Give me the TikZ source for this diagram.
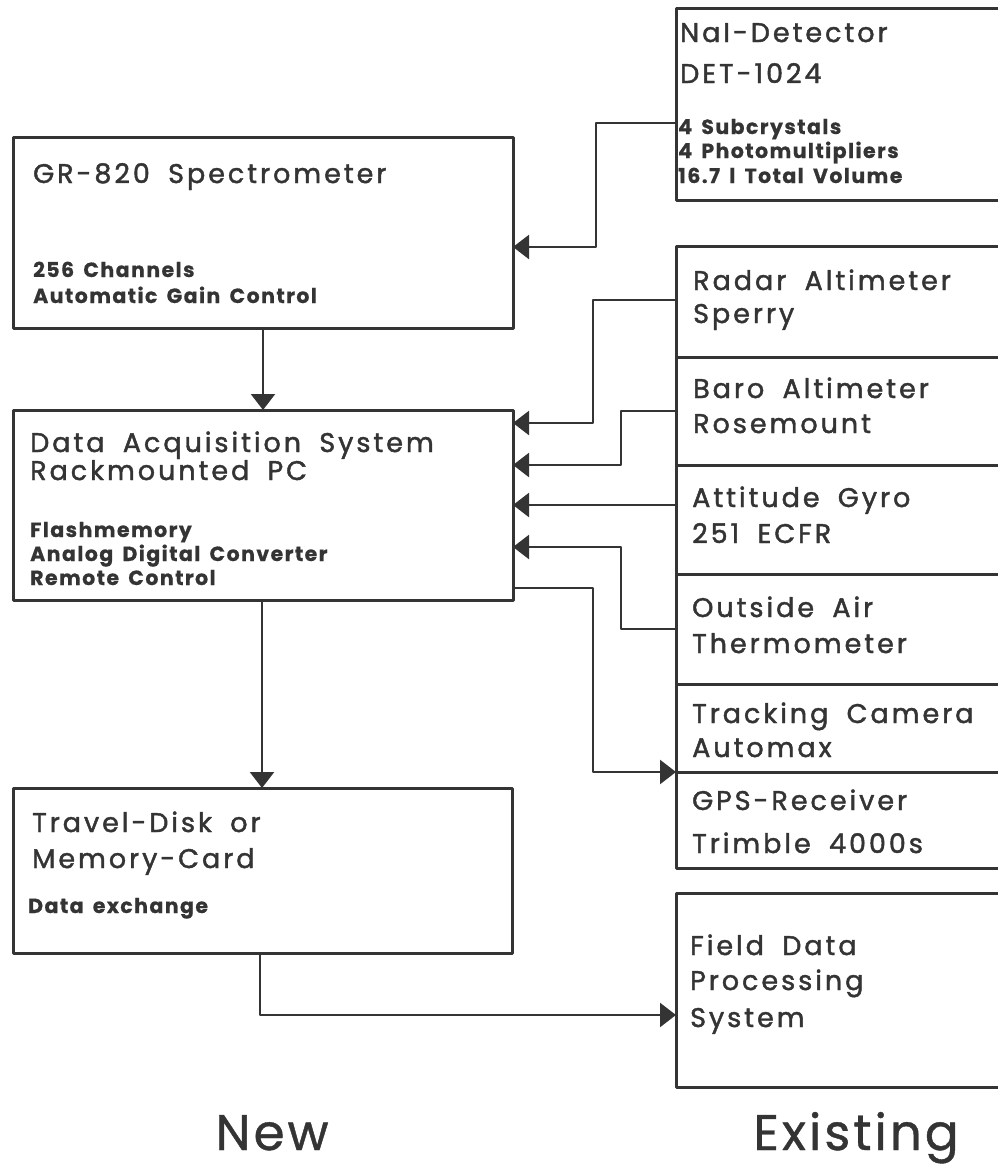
\documentclass[tikz,border=0pt]{standalone}
\usepackage{fontspec}
\setmainfont{Poppins}
\newfontfamily\bigfont[LetterSpace=11,WordSpace=1.8,FakeBold=1.6]{Poppins}
\newfontfamily\smallfont[LetterSpace=7,WordSpace=1.6,FakeBold=0.6]{Poppins}
\newfontfamily\capfont[LetterSpace=6,FakeBold=0.8]{Poppins}
\usetikzlibrary{arrows.meta}
\definecolor{ink}{RGB}{52,52,52}
\begin{document}
\begin{tikzpicture}[x=1pt,y=-1pt,line join=round,
  box/.style={draw=ink,line width=3pt,rectangle,anchor=north west,inner sep=0pt,outer sep=0pt},
  big/.style={anchor=base west,inner sep=0pt,text=ink,font=\bigfont\fontsize{27}{30}\selectfont},
  small/.style={anchor=base west,inner sep=0pt,text=ink,font=\smallfont\bfseries\fontsize{20.5}{22}\selectfont},
  caption/.style={anchor=base,inner sep=0pt,text=ink,font=\capfont\fontsize{50}{56}\selectfont},
  conn/.style={draw=ink,line width=2.3pt},
  arr/.style={conn,-{Triangle[length=16pt,width=24pt]}}]
\useasboundingbox (0,0) rectangle (998,1173);
\clip (0,0) rectangle (998,1173);
\fill[white] (0,0) rectangle (998,1173);

% left boxes
\node[box,minimum width=500pt,minimum height=191pt] (gr) at (13,137) {};
\node[box,minimum width=500pt,minimum height=190pt] (das) at (13,410) {};
\node[box,minimum width=499pt,minimum height=165pt] (travel) at (13,788) {};

% right boxes
\node[box,minimum width=340pt,minimum height=192pt] (nai) at (676,8) {};
\node[box,minimum width=340pt,minimum height=111pt] (radar) at (676,246) {};
\node[box,minimum width=340pt,minimum height=108pt] (baro) at (676,357) {};
\node[box,minimum width=340pt,minimum height=109pt] (att) at (676,465) {};
\node[box,minimum width=340pt,minimum height=110pt] (oat) at (676,574) {};
\node[box,minimum width=340pt,minimum height=88pt] (track) at (676,684) {};
\node[box,minimum width=340pt,minimum height=96pt] (gps) at (676,772) {};
\node[box,minimum width=340pt,minimum height=194pt] (field) at (676,893) {};

% texts
\node[big] (nai1) at (680,42) {NaI-Detector};
\node[big] (nai2) at (680,83) {DET-1024};
\node[small] (nai3) at (678,134) {4 Subcrystals};
\node[small] (nai4) at (678,158) {4 Photomultipliers};
\node[small] (nai5) at (678,183) {16.7 l Total Volume};

\node[big] (gr1) at (33,183) {GR-820 Spectrometer};
\node[small] (gr2) at (33,277) {256 Channels};
\node[small] (gr3) at (33,303) {Automatic Gain Control};

\node[big] (das1) at (30,452) {Data Acquisition System};
\node[big] (das2) at (30,480) {Rackmounted PC};
\node[small] (das3) at (30,537) {Flashmemory};
\node[small] (das4) at (30,561) {Analog Digital Converter};
\node[small] (das5) at (30,585) {Remote Control};

\node[big] (rad1) at (693,290) {Radar Altimeter};
\node[big] (rad2) at (693,323) {Sperry};
\node[big] (bar1) at (693,398) {Baro Altimeter};
\node[big] (bar2) at (693,433) {Rosemount};
\node[big] (att1) at (692,507) {Attitude Gyro};
\node[big] (att2) at (692,543) {251 ECFR};
\node[big] (oat1) at (692,617) {Outside Air};
\node[big] (oat2) at (692,653) {Thermometer};
\node[big] (trk1) at (692,723) {Tracking Camera};
\node[big] (trk2) at (692,757) {Automax};
\node[big] (gps1) at (692,810) {GPS-Receiver};
\node[big] (gps2) at (692,853) {Trimble 4000s};
\node[big] (fld1) at (690,955) {Field Data};
\node[big] (fld2) at (690,990) {Processing};
\node[big] (fld3) at (690,1027) {System};

\node[big] (trv1) at (32,832) {Travel-Disk or};
\node[big] (trv2) at (32,868) {Memory-Card};
\node[small] (trv3) at (28,913) {Data exchange};

\node[caption] (new) at (272,1150) {New};
\node[caption] (existing) at (856,1150) {Existing};

% connectors
\draw[arr] (nai.west |- 0,123) -- (596,123) |- (gr.east |- 0,247);
\draw[arr] (gr.south -| 263,0) -- (das.north -| 263,0);
\draw[arr] (radar.west |- 0,300) -- (593,300) |- (das.east |- 0,423);
\draw[arr] (baro.west |- 0,411) -- (621,411) |- (das.east |- 0,465);
\draw[arr] (att.west |- 0,505) -- (das.east |- 0,505);
\draw[arr] (oat.west |- 0,629) -- (621,629) |- (das.east |- 0,547);
\draw[arr] (das.east |- 0,588) -- (593,588) |- (gps.north west);
\draw[arr] (das.south -| 262,0) -- (travel.north -| 262,0);
\draw[arr] (travel.south -| 260,0) |- (field.west |- 0,1015);
\end{tikzpicture}
\end{document}
